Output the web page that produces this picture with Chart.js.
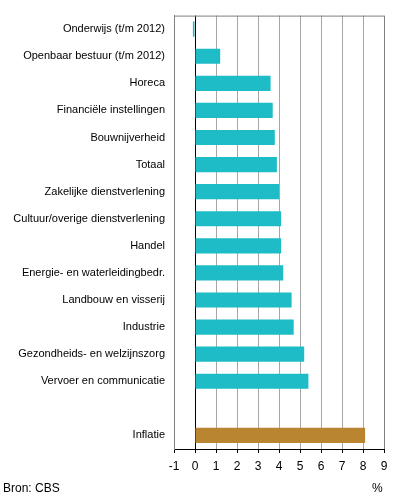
<!DOCTYPE html>
<html>
<head>
<meta charset="utf-8">
<script src="https://cdn.jsdelivr.net/npm/chart.js@4"></script>
<style>
  html, body { margin: 0; padding: 0; background: #fff; }
  #wrap { position: relative; width: 396px; height: 501px; }
  .note { position: absolute; font: 12px "Liberation Sans", Arial, sans-serif; color: #000; }
</style>
</head>
<body>
<div id="wrap">
  <canvas id="cbsChart" width="396" height="501"></canvas>
  <div class="note" style="left:3px; top:481px;">Bron: CBS</div>
  <div class="note" style="left:372px; top:481px;">%</div>
</div>
<script>
const categories = [
  'Onderwijs (t/m 2012)',
  'Openbaar bestuur (t/m 2012)',
  'Horeca',
  'Financiële instellingen',
  'Bouwnijverheid',
  'Totaal',
  'Zakelijke dienstverlening',
  'Cultuur/overige dienstverlening',
  'Handel',
  'Energie- en waterleidingbedr.',
  'Landbouw en visserij',
  'Industrie',
  'Gezondheids- en welzijnszorg',
  'Vervoer en communicatie',
  '',
  'Inflatie'
];
const values = [-0.1, 1.2, 3.6, 3.7, 3.8, 3.9, 4.0, 4.1, 4.1, 4.2, 4.6, 4.7, 5.2, 5.4, null, 8.1];
const xTicks = [-1, 0, 1, 2, 3, 4, 5, 6, 7, 8, 9];

const teal = '#1ebcc6';
const gold = '#b98530';
const barColors = categories.map(c => c === 'Inflatie' ? gold : teal);

const font = { family: '"Liberation Sans", Arial, sans-serif', size: 12 };
const labelFont = { family: '"Liberation Sans", Arial, sans-serif', size: 11 };

// gray frame line along the top of the plot area
const topBorder = {
  id: 'topBorder',
  afterDraw(chart) {
    const { ctx, chartArea } = chart;
    ctx.save();
    ctx.strokeStyle = '#808080';
    ctx.lineWidth = 1;
    ctx.beginPath();
    ctx.moveTo(chartArea.left, chartArea.top + 0.5);
    ctx.lineTo(chartArea.right, chartArea.top + 0.5);
    ctx.stroke();
    ctx.restore();
  }
};

const ctx = document.getElementById('cbsChart').getContext('2d');
const cbsChart = new Chart(ctx, {
  type: 'bar',
  data: {
    labels: categories,
    datasets: [{
      data: values,
      backgroundColor: barColors,
      borderWidth: 0,
      barPercentage: 0.56,
      categoryPercentage: 1
    }]
  },
  plugins: [topBorder],
  options: {
    indexAxis: 'y',
    responsive: false,
    animation: false,
    layout: { padding: { top: 15, right: 12, bottom: 22, left: 0 } },
    plugins: {
      legend: { display: false },
      tooltip: { enabled: false }
    },
    scales: {
      x: {
        min: -1,
        max: 9,
        afterBuildTicks: scale => { scale.ticks = xTicks.map(v => ({ value: v })); },
        afterFit: scale => { scale.height = 30; },
        ticks: { color: '#000', font: font, padding: 6, maxRotation: 0 },
        grid: {
          color: c => c.tick.value === 0 ? '#000' : (c.tick.value === -1 || c.tick.value === 9 ? '#808080' : '#a6a6a6'),
          lineWidth: 1,
          tickLength: 4,
          tickColor: '#000'
        },
        border: { display: true, color: '#000' }
      },
      y: {
        afterFit: scale => { scale.width = 174; },
        ticks: { color: '#000', font: labelFont, padding: 9, autoSkip: false },
        grid: { display: false, drawTicks: false },
        border: { display: true, color: '#808080' }
      }
    }
  }
});
</script>
</body>
</html>
